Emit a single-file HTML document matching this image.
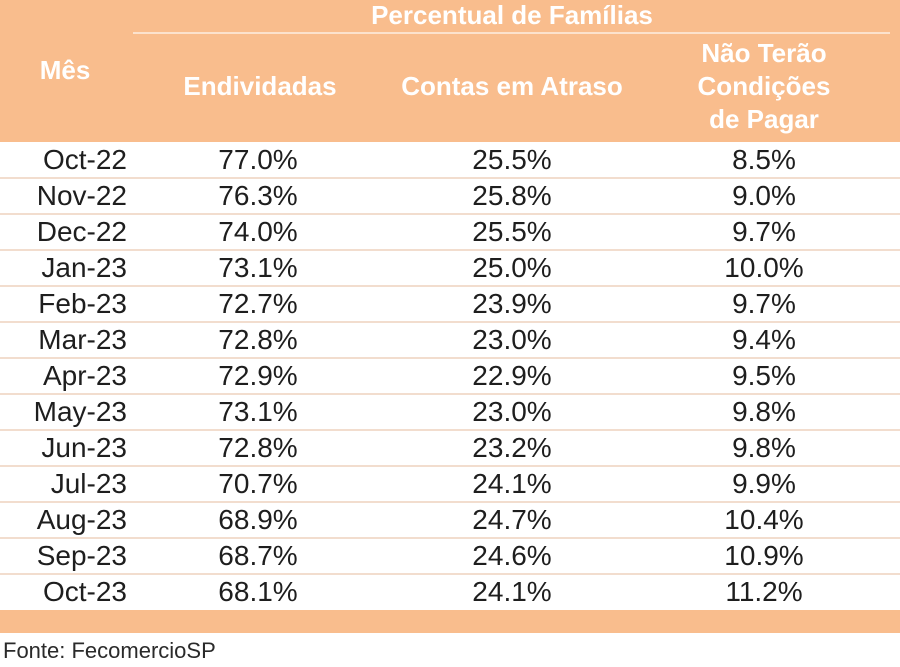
<!DOCTYPE html>
<html>
<head>
<meta charset="utf-8">
<style>
html,body{margin:0;padding:0;background:#fff;}
body{width:900px;height:667px;position:relative;overflow:hidden;font-family:"Liberation Sans",Arial,sans-serif;}
.hdr{position:absolute;left:0;top:0;width:900px;height:142px;background:#F9BD8D;}
.hline{position:absolute;left:133px;top:32px;width:757px;height:2px;background:#FCE2CD;}
.h{position:absolute;color:#fff;font-weight:bold;font-size:26px;line-height:33px;text-align:center;white-space:nowrap;}
.row{position:absolute;left:0;width:900px;height:36px;}
.sep{position:absolute;left:0;width:900px;height:2px;background:#F2DDCE;}
.c{position:absolute;font-size:28px;line-height:36px;color:#1e1e1e;white-space:nowrap;}
.m{right:773px;text-align:right;}
.e{left:178px;width:160px;text-align:center;}
.a{left:432px;width:160px;text-align:center;}
.n{left:684px;width:160px;text-align:center;}
.bar{position:absolute;left:0;top:610px;width:900px;height:23px;background:#F9BD8D;}
.src{position:absolute;left:3px;top:638px;font-size:22px;line-height:26px;color:#2a2a2a;}
</style>
</head>
<body>
<div class="hdr"></div>
<div class="hline"></div>
<div class="h" style="left:312px;width:400px;top:0px;line-height:30px;">Percentual de Famílias</div>
<div class="h" style="left:15px;width:100px;top:54px;">Mês</div>
<div class="h" style="left:160px;width:200px;top:70px;">Endividadas</div>
<div class="h" style="left:387px;width:250px;top:70px;">Contas em Atraso</div>
<div class="h" style="left:664px;width:200px;top:37px;">Não Terão<br>Condições<br>de Pagar</div>

<div class="row" style="top:142px"><span class="c m">Oct-22</span><span class="c e">77.0%</span><span class="c a">25.5%</span><span class="c n">8.5%</span></div>
<div class="row" style="top:178px"><span class="c m">Nov-22</span><span class="c e">76.3%</span><span class="c a">25.8%</span><span class="c n">9.0%</span></div>
<div class="row" style="top:214px"><span class="c m">Dec-22</span><span class="c e">74.0%</span><span class="c a">25.5%</span><span class="c n">9.7%</span></div>
<div class="row" style="top:250px"><span class="c m">Jan-23</span><span class="c e">73.1%</span><span class="c a">25.0%</span><span class="c n">10.0%</span></div>
<div class="row" style="top:286px"><span class="c m">Feb-23</span><span class="c e">72.7%</span><span class="c a">23.9%</span><span class="c n">9.7%</span></div>
<div class="row" style="top:322px"><span class="c m">Mar-23</span><span class="c e">72.8%</span><span class="c a">23.0%</span><span class="c n">9.4%</span></div>
<div class="row" style="top:358px"><span class="c m">Apr-23</span><span class="c e">72.9%</span><span class="c a">22.9%</span><span class="c n">9.5%</span></div>
<div class="row" style="top:394px"><span class="c m">May-23</span><span class="c e">73.1%</span><span class="c a">23.0%</span><span class="c n">9.8%</span></div>
<div class="row" style="top:430px"><span class="c m">Jun-23</span><span class="c e">72.8%</span><span class="c a">23.2%</span><span class="c n">9.8%</span></div>
<div class="row" style="top:466px"><span class="c m">Jul-23</span><span class="c e">70.7%</span><span class="c a">24.1%</span><span class="c n">9.9%</span></div>
<div class="row" style="top:502px"><span class="c m">Aug-23</span><span class="c e">68.9%</span><span class="c a">24.7%</span><span class="c n">10.4%</span></div>
<div class="row" style="top:538px"><span class="c m">Sep-23</span><span class="c e">68.7%</span><span class="c a">24.6%</span><span class="c n">10.9%</span></div>
<div class="row" style="top:574px"><span class="c m">Oct-23</span><span class="c e">68.1%</span><span class="c a">24.1%</span><span class="c n">11.2%</span></div>

<div class="sep" style="top:177px"></div>
<div class="sep" style="top:213px"></div>
<div class="sep" style="top:249px"></div>
<div class="sep" style="top:285px"></div>
<div class="sep" style="top:321px"></div>
<div class="sep" style="top:357px"></div>
<div class="sep" style="top:393px"></div>
<div class="sep" style="top:429px"></div>
<div class="sep" style="top:465px"></div>
<div class="sep" style="top:501px"></div>
<div class="sep" style="top:537px"></div>
<div class="sep" style="top:573px"></div>

<div class="bar"></div>
<div class="src">Fonte: FecomercioSP</div>
</body>
</html>
